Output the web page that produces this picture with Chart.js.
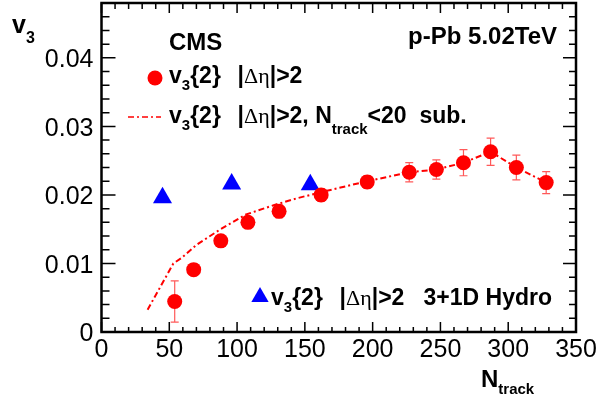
<!DOCTYPE html>
<html>
<head>
<meta charset="utf-8">
<script src="https://cdn.jsdelivr.net/npm/chart.js@4/dist/chart.umd.min.js"></script>
<style>
  html, body { margin: 0; padding: 0; background: #fff; }
  #v3Chart { display: block; }
</style>
</head>
<body>
<canvas id="v3Chart" width="597" height="403"></canvas>
<script>
// CMS p-Pb data, v3{2} |deta|>2
const nTrack = [54, 68, 88, 108, 131, 162, 196, 227, 247, 267, 287, 306, 328];
const v3 = [0.00445, 0.0091, 0.0133, 0.0160, 0.0176, 0.0200, 0.0219, 0.0233, 0.0237, 0.0247, 0.0263, 0.0240, 0.0218];
const v3Err = [0.0030, 0.0008, 0.0008, 0.0008, 0.0009, 0.0009, 0.0009, 0.0014, 0.0014, 0.0019, 0.0020, 0.0018, 0.0016];

// Ntrack<20 subtracted curve
const subN = [34, 53, 59, 70, 87, 106, 127, 144, 162, 196, 227, 247, 267, 287, 306, 328];
const subV3 = [0.00325, 0.0100, 0.0108, 0.0127, 0.0149, 0.0171, 0.0185, 0.0195, 0.0204, 0.0220, 0.0233, 0.0237, 0.0247, 0.0263, 0.0240, 0.0218];

// 3+1D hydro
const hydroN = [45, 96, 154];
const hydroV3 = [0.0196, 0.0216, 0.0215];

// axis ticks
const xTicks = [0, 50, 100, 150, 200, 250, 300, 350];
const yTicks = [0, 0.01, 0.02, 0.03, 0.04];
const yTickLabels = ['0', '0.01', '0.02', '0.03', '0.04'];

const SANS = '"Liberation Sans", Arial, Helvetica, sans-serif';
const SERIF = '"Liberation Serif", "DejaVu Serif", serif';

function toXY(xs, ys) {
  return xs.map((x, i) => ({ x: x, y: ys[i] }));
}

// draws a run of text pieces with their own font and vertical shift
function richText(ctx, x, y, parts) {
  ctx.textAlign = 'left';
  ctx.textBaseline = 'alphabetic';
  parts.forEach(p => {
    ctx.font = p.font;
    ctx.fillText(p.t, x, y + (p.dy || 0));
    x += ctx.measureText(p.t).width + (p.sp || 0);
  });
  return x;
}

const big = 'bold 23px ' + SANS;
const sub = 'bold 15px ' + SANS;
const greek = '22px ' + SERIF;

function v3Label(extra) {
  return [
    { t: 'v', font: big },
    { t: '3', font: sub, dy: 7 },
    { t: '{2}  ', font: big, sp: 4 },
    { t: '|', font: big },
    { t: '\u0394\u03B7', font: greek },
    { t: '|>2' + extra, font: big }
  ];
}

function noPad(s) {
  s.paddingLeft = 0; s.paddingRight = 0; s.paddingTop = 0; s.paddingBottom = 0;
}

const errorBars = {
  id: 'errorBars',
  beforeDatasetsDraw(chart) {
    const ctx = chart.ctx;
    const xs = chart.scales.x, ys = chart.scales.y;
    ctx.save();
    ctx.strokeStyle = 'rgba(255,60,60,0.85)';
    ctx.lineWidth = 1.2;
    nTrack.forEach((n, i) => {
      const px = xs.getPixelForValue(n);
      const top = ys.getPixelForValue(v3[i] + v3Err[i]);
      const bot = ys.getPixelForValue(v3[i] - v3Err[i]);
      ctx.beginPath();
      ctx.moveTo(px, top); ctx.lineTo(px, bot);
      ctx.moveTo(px - 4, top); ctx.lineTo(px + 4, top);
      ctx.moveTo(px - 4, bot); ctx.lineTo(px + 4, bot);
      ctx.stroke();
    });
    ctx.restore();
  }
};

const frameAndText = {
  id: 'frameAndText',
  afterDraw(chart) {
    const ctx = chart.ctx;
    const a = chart.chartArea;
    const xs = chart.scales.x, ys = chart.scales.y;
    ctx.save();
    ctx.strokeStyle = '#000';

    // minor + major ticks, pointing inward on all sides
    ctx.lineWidth = 1.5;
    ctx.beginPath();
    for (let v = 0; v <= 350; v += 10) {
      const px = xs.getPixelForValue(v);
      const major = v % 50 === 0;
      ctx.moveTo(px, a.bottom); ctx.lineTo(px, a.bottom - (major ? 10 : 5));
      ctx.moveTo(px, a.top); ctx.lineTo(px, a.top + (major ? 10 : 6));
    }
    for (let k = 0; k <= 24; k++) {
      const py = ys.getPixelForValue(k * 0.002);
      const major = k % 5 === 0;
      ctx.moveTo(a.left, py); ctx.lineTo(a.left + (major ? 14 : 8), py);
      ctx.moveTo(a.right, py); ctx.lineTo(a.right - (major ? 13 : 7), py);
    }
    ctx.stroke();

    // frame
    ctx.lineWidth = 2.5;
    ctx.strokeRect(a.left, a.top, a.right - a.left, a.bottom - a.top);

    ctx.fillStyle = '#000';
    // axis titles
    richText(ctx, 12, 33, [
      { t: 'v', font: 'bold 25px ' + SANS },
      { t: '3', font: 'bold 16px ' + SANS, dy: 10 }
    ]);
    richText(ctx, 481, 387, [
      { t: 'N', font: 'bold 24px ' + SANS },
      { t: 'track', font: 'bold 15px ' + SANS, dy: 7 }
    ]);

    // labels
    ctx.font = 'bold 24px ' + SANS;
    ctx.fillText('CMS', 169, 50);
    ctx.textAlign = 'right';
    ctx.fillText('p-Pb 5.02TeV', 557, 44);

    // legend 1: data points
    ctx.fillStyle = 'red';
    ctx.beginPath();
    ctx.arc(155, 78, 7.5, 0, Math.PI * 2);
    ctx.fill();
    ctx.fillStyle = '#000';
    richText(ctx, 169, 83, v3Label(''));

    // legend 2: subtracted curve
    ctx.strokeStyle = 'red';
    ctx.lineWidth = 1.5;
    ctx.setLineDash([6, 3, 2, 3]);
    ctx.beginPath();
    ctx.moveTo(128, 117); ctx.lineTo(161, 117);
    ctx.stroke();
    ctx.setLineDash([]);
    let x2 = richText(ctx, 169, 123, v3Label(', N'));
    richText(ctx, x2, 123, [
      { t: 'track', font: sub, dy: 11 },
      { t: '<20  sub.', font: big }
    ]);

    // legend 3: hydro
    ctx.fillStyle = 'blue';
    const r = 10, cx = 260, cy = 297;
    ctx.beginPath();
    ctx.moveTo(cx, cy - r);
    ctx.lineTo(cx + r * 0.866, cy + r / 2);
    ctx.lineTo(cx - r * 0.866, cy + r / 2);
    ctx.closePath();
    ctx.fill();
    ctx.fillStyle = '#000';
    richText(ctx, 271, 305, v3Label('   3+1D Hydro'));

    ctx.restore();
  }
};

new Chart('v3Chart', {
  type: 'scatter',
  data: {
    datasets: [
      {
        label: 'v3{2} |deta|>2',
        data: toXY(nTrack, v3),
        backgroundColor: 'red',
        borderColor: 'red',
        pointRadius: 7.5,
        pointHoverRadius: 7.5,
        borderWidth: 0,
        order: 1
      },
      {
        label: 'v3{2} |deta|>2, Ntrack<20 sub.',
        data: toXY(subN, subV3),
        showLine: true,
        borderColor: 'red',
        borderWidth: 2,
        borderDash: [6, 3, 2, 3],
        pointRadius: 0,
        fill: false,
        order: 3
      },
      {
        label: 'v3{2} |deta|>2 3+1D Hydro',
        data: toXY(hydroN, hydroV3),
        pointStyle: 'triangle',
        backgroundColor: 'blue',
        borderColor: 'blue',
        borderWidth: 0,
        pointRadius: 11,
        pointHoverRadius: 11,
        order: 2
      }
    ]
  },
  options: {
    responsive: false,
    animation: false,
    devicePixelRatio: 1,
    layout: { autoPadding: false, padding: { left: 0, right: 21, top: 3, bottom: 0 } },
    plugins: {
      legend: { display: false },
      tooltip: { enabled: false }
    },
    scales: {
      x: {
        type: 'linear',
        min: 0,
        max: 350,
        grid: { display: false, drawTicks: false },
        border: { display: false },
        afterBuildTicks: s => { s.ticks = xTicks.map(v => ({ value: v })); },
        ticks: {
          padding: 3,
          color: '#000',
          maxRotation: 0,
          autoSkip: false,
          font: { family: SANS, size: 25 }
        },
        afterFit: s => { s.height = 71; noPad(s); }
      },
      y: {
        type: 'linear',
        min: 0,
        max: 0.048,
        grid: { display: false, drawTicks: false },
        border: { display: false },
        afterBuildTicks: s => { s.ticks = yTicks.map(v => ({ value: v })); },
        ticks: {
          padding: 8,
          labelOffset: 2.5,
          color: '#000',
          autoSkip: false,
          font: { family: SANS, size: 25 },
          callback: (v) => yTickLabels[yTicks.findIndex(t => Math.abs(t - v) < 1e-9)]
        },
        afterFit: s => { s.width = 101.5; noPad(s); }
      }
    }
  },
  plugins: [errorBars, frameAndText]
});
</script>
</body>
</html>
